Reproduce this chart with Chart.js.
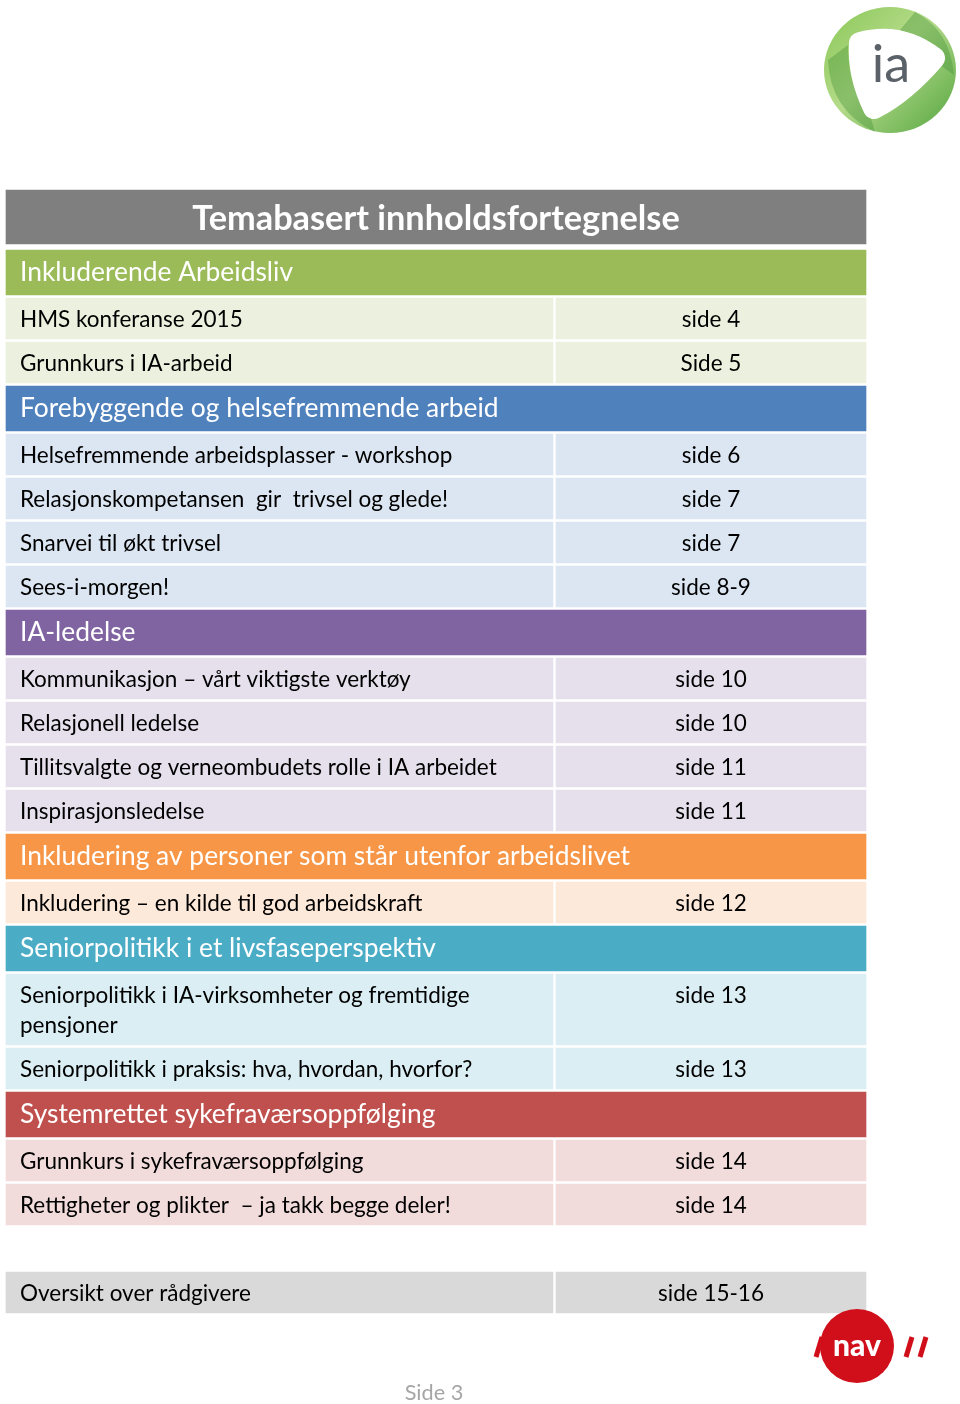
<!DOCTYPE html>
<html>
<head>
<meta charset="utf-8">
<script src="https://cdn.jsdelivr.net/npm/chart.js@4.4.1/dist/chart.umd.min.js"></script>
<style>
  html, body { margin: 0; padding: 0; background: #fff; }
  canvas { display: block; }
</style>
</head>
<body>
<canvas id="toc" width="960" height="1404"></canvas>
<script>
// page content
const pageTitle = 'Temabasert innholdsfortegnelse';
const sections = [
  'Inkluderende Arbeidsliv',
  'Forebyggende og helsefremmende arbeid',
  'IA-ledelse',
  'Inkludering av personer som står utenfor arbeidslivet',
  'Seniorpolitikk i et livsfaseperspektiv',
  'Systemrettet sykefraværsoppfølging'
];
const itemTitles = [
  'HMS konferanse 2015',
  'Grunnkurs i IA-arbeid',
  'Helsefremmende arbeidsplasser - workshop',
  'Relasjonskompetansen  gir  trivsel og glede!',
  'Snarvei til økt trivsel',
  'Sees-i-morgen!',
  'Kommunikasjon – vårt viktigste verktøy',
  'Relasjonell ledelse',
  'Tillitsvalgte og verneombudets rolle i IA arbeidet',
  'Inspirasjonsledelse',
  'Inkludering – en kilde til god arbeidskraft',
  'Seniorpolitikk i IA-virksomheter og fremtidige pensjoner',
  'Seniorpolitikk i praksis: hva, hvordan, hvorfor?',
  'Grunnkurs i sykefraværsoppfølging',
  'Rettigheter og plikter  – ja takk begge deler!'
];
const itemPages = [
  'side 4', 'Side 5',
  'side 6', 'side 7', 'side 7', 'side 8-9',
  'side 10', 'side 10', 'side 11', 'side 11',
  'side 12',
  'side 13', 'side 13',
  'side 14', 'side 14'
];
const itemSection = [0, 0, 1, 1, 1, 1, 2, 2, 2, 2, 3, 4, 4, 5, 5];
const extraTitles = ['Oversikt over rådgivere'];
const extraPages = ['side 15-16'];
const footerText = 'Side 3';

// styles
const titleColor = '#7f7f7f';
const sectionColors = ['#9bbb59', '#4f81bd', '#8064a2', '#f79646', '#4bacc6', '#c0504d'];
const cellColors = ['#ebf1de', '#dce6f2', '#e5e0ec', '#fde9d9', '#daeef3', '#f2dcdb'];
const extraColor = '#d9d9d9';
const FONT = 'Lato, "Open Sans", sans-serif';
const itemFont = '22.5px ' + FONT;
const sectionFont = '26.4px ' + FONT;
const titleFont = 'bold 34.3px ' + FONT;

// table geometry (layout only)
const tableLeft = 6, tableRight = 866, splitLeft = 553, splitRight = 556;
const padX = 14, lineH = 30;

// wrap long titles to the left cell width
const mctx = document.createElement('canvas').getContext('2d');
function wrap(text, font, maxW) {
  mctx.font = font;
  const words = text.split(' ');
  const lines = [];
  let cur = '';
  for (const w of words) {
    const test = cur === '' ? w : cur + ' ' + w;
    if (mctx.measureText(test).width > maxW && cur !== '') {
      lines.push(cur.trimEnd());
      cur = w;
    } else {
      cur = test;
    }
  }
  lines.push(cur);
  return lines;
}

// build row extents
const bands = [], bandColors = [], bandTexts = [];
const leftCells = [], rightCells = [], cellFill = [], leftTexts = [], rightTexts = [];
const fullW = tableRight - tableLeft;
const leftW = splitLeft - tableLeft, rightW = tableRight - splitRight;
const fullX = (tableLeft + tableRight) / 2;
const leftX = (tableLeft + splitLeft) / 2, rightX = (splitRight + tableRight) / 2;

let y = 190;
bands.push({ x: fullX, y: [y, y + 54] }); bandColors.push(titleColor); bandTexts.push(pageTitle);
y += 60;
sections.forEach((s, si) => {
  bands.push({ x: fullX, y: [y, y + 45] }); bandColors.push(sectionColors[si]); bandTexts.push(s);
  y += 48;
  itemTitles.forEach((t, i) => {
    if (itemSection[i] !== si) return;
    const lines = wrap(t, itemFont, leftW - 2 * padX);
    const h = 41 + lineH * (lines.length - 1);
    leftCells.push({ x: leftX, y: [y, y + h] });
    rightCells.push({ x: rightX, y: [y, y + h] });
    cellFill.push(cellColors[si]);
    leftTexts.push(lines);
    rightTexts.push(itemPages[i]);
    y += h + 3;
  });
});
y += 44;
extraTitles.forEach((t, i) => {
  const lines = wrap(t, itemFont, leftW - 2 * padX);
  const h = 41 + lineH * (lines.length - 1);
  leftCells.push({ x: leftX, y: [y, y + h] });
  rightCells.push({ x: rightX, y: [y, y + h] });
  cellFill.push(extraColor);
  leftTexts.push(lines);
  rightTexts.push(extraPages[i]);
  y += h + 3;
});

const textPlugin = {
  id: 'tocText',
  afterDatasetsDraw(chart) {
    const ctx = chart.ctx;
    ctx.save();
    // band texts
    chart.getDatasetMeta(0).data.forEach((bar, i) => {
      const top = Math.min(bar.y, bar.base);
      ctx.fillStyle = '#ffffff';
      if (i === 0) {
        ctx.font = titleFont;
        ctx.textAlign = 'center';
        ctx.fillText(bandTexts[i], bar.x, top + 40);
      } else {
        ctx.font = sectionFont;
        ctx.textAlign = 'left';
        ctx.fillText(bandTexts[i], bar.x - bar.width / 2 + padX, top + 31);
      }
    });
    // item texts
    ctx.fillStyle = '#000000';
    ctx.font = itemFont;
    chart.getDatasetMeta(1).data.forEach((bar, i) => {
      const top = Math.min(bar.y, bar.base);
      ctx.textAlign = 'left';
      leftTexts[i].forEach((ln, k) => {
        ctx.fillText(ln, bar.x - bar.width / 2 + padX, top + 29 + k * lineH);
      });
    });
    chart.getDatasetMeta(2).data.forEach((bar, i) => {
      const top = Math.min(bar.y, bar.base);
      ctx.textAlign = 'center';
      ctx.fillText(rightTexts[i], bar.x, top + 29);
    });
    // footer
    ctx.fillStyle = '#a6a6a6';
    ctx.font = '21.7px ' + FONT;
    ctx.textAlign = 'center';
    ctx.fillText(footerText, 434, 1400);
    ctx.restore();
  },
  afterDraw(chart) {
    const ctx = chart.ctx;
    ctx.save();
    // ia logo: green ribbon ring with a rounded-triangle opening
    const cx = 890, cy = 70;
    const g = ctx.createLinearGradient(cx - 60, cy - 60, cx + 60, cy + 60);
    g.addColorStop(0, '#8cc85a');
    g.addColorStop(0.45, '#b5db8a');
    g.addColorStop(1, '#5aa845');
    ctx.fillStyle = g;
    ctx.beginPath();
    ctx.ellipse(cx, cy, 66, 63, 0, 0, Math.PI * 2);
    ctx.fill();
    // darker twist shading
    ctx.fillStyle = 'rgba(60,140,50,0.35)';
    ctx.beginPath();
    ctx.moveTo(cx - 62, cy - 10);
    ctx.quadraticCurveTo(cx - 60, cy + 40, cx - 15, cy + 62);
    ctx.lineTo(cx - 20, cy + 45);
    ctx.quadraticCurveTo(cx - 42, cy + 20, cx - 42, cy - 25);
    ctx.closePath();
    ctx.fill();
    ctx.beginPath();
    ctx.moveTo(cx + 25, cy - 58);
    ctx.quadraticCurveTo(cx + 60, cy - 40, cx + 64, cy + 5);
    ctx.lineTo(cx + 50, cy - 5);
    ctx.quadraticCurveTo(cx + 40, cy - 30, cx + 10, cy - 40);
    ctx.closePath();
    ctx.fill();
    // inner opening
    ctx.fillStyle = '#ffffff';
    ctx.lineJoin = 'round';
    ctx.strokeStyle = '#ffffff';
    ctx.lineWidth = 22;
    ctx.beginPath();
    ctx.moveTo(cx - 30, cy - 27);
    ctx.quadraticCurveTo(cx + 10, cy - 38, cx + 44, cy - 12);
    ctx.quadraticCurveTo(cx + 15, cy + 22, cx - 16, cy + 38);
    ctx.quadraticCurveTo(cx - 32, cy + 5, cx - 30, cy - 27);
    ctx.closePath();
    ctx.fill();
    ctx.stroke();
    ctx.fillStyle = '#5b6168';
    ctx.font = '52px ' + FONT;
    ctx.textAlign = 'center';
    ctx.fillText('ia', cx + 1, cy + 12);
    // NAV logo
    const nx = 857, ny = 1346;
    ctx.fillStyle = '#d10f1b';
    ctx.beginPath();
    ctx.arc(nx, ny, 37, 0, Math.PI * 2);
    ctx.fill();
    ctx.lineWidth = 5;
    ctx.strokeStyle = '#d10f1b';
    [-38, 52, 66].forEach(dx => {
      ctx.beginPath();
      ctx.moveTo(nx + dx - 3, ny + 11);
      ctx.lineTo(nx + dx + 3, ny - 9);
      ctx.stroke();
    });
    ctx.fillStyle = '#ffffff';
    ctx.font = '900 30px ' + FONT;
    ctx.fillText('nav', nx, ny + 10);
    ctx.restore();
  }
};

new Chart(document.getElementById('toc'), {
  type: 'bar',
  data: {
    datasets: [
      { data: bands, backgroundColor: bandColors, barThickness: fullW, grouped: false, borderWidth: 0 },
      { data: leftCells, backgroundColor: cellFill, barThickness: leftW, grouped: false, borderWidth: 0 },
      { data: rightCells, backgroundColor: cellFill, barThickness: rightW, grouped: false, borderWidth: 0 }
    ]
  },
  options: {
    responsive: false,
    animation: false,
    devicePixelRatio: 1,
    layout: { padding: 0 },
    scales: {
      x: { type: 'linear', min: 0, max: 960, offset: false, display: false },
      y: { type: 'linear', min: 0, max: 1404, reverse: true, display: false }
    },
    plugins: {
      legend: { display: false },
      tooltip: { enabled: false }
    }
  },
  plugins: [textPlugin]
});
</script>
</body>
</html>
